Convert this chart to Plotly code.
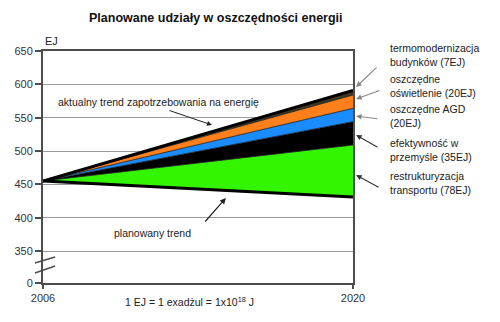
import plotly.graph_objects as go

# --- data -------------------------------------------------------------
years = [2006, 2020]
start_level = 455            # EJ in 2006
planned_2020 = 431           # planned demand in 2020 (EJ)
measure_names = ["restrukturyzacja transportu", "efektywność w przemyśle",
                 "oszczędne AGD", "oszczędne oświetlenie",
                 "termomodernizacja budynków"]
measure_savings = [78, 35, 20, 20, 7]   # EJ saved by 2020
measure_colors = ["#33f500", "#000000", "#1a8cff", "#ff7f1a", "#3d3820"]

y_ticks = [0, 350, 400, 450, 500, 550, 600, 650]

# broken axis: the 0 tick sits 48 units below 350
BREAK_ZERO = 302

def axis_pos(v):
    return BREAK_ZERO if v == 0 else v

# --- figure -----------------------------------------------------------
fig = go.Figure()

planned = [start_level, planned_2020]
fig.add_trace(go.Scatter(x=years, y=planned, mode="lines",
                         line=dict(width=0, color="black"),
                         showlegend=False, hoverinfo="skip"))
level = planned_2020
for name, s, c in zip(measure_names, measure_savings, measure_colors):
    level += s
    fig.add_trace(go.Scatter(x=years, y=[start_level, level], mode="lines",
                             name=name, fill="tonexty", fillcolor=c,
                             line=dict(width=0.8, color="#1a1a1a"),
                             showlegend=False, hoverinfo="skip"))

current = [start_level, planned_2020 + sum(measure_savings)]
fig.add_trace(go.Scatter(x=years, y=current, mode="lines",
                         line=dict(width=3, color="black"),
                         showlegend=False, hoverinfo="skip"))
fig.add_trace(go.Scatter(x=years, y=planned, mode="lines",
                         line=dict(width=3, color="black"),
                         showlegend=False, hoverinfo="skip"))

frame = "#4d4d4d"
tick_font = dict(family="Liberation Sans, Arial", size=11, color="#333")

fig.update_xaxes(range=[2006, 2020], tickvals=years,
                 ticktext=[str(y) for y in years],
                 showgrid=False, zeroline=False,
                 showline=True, mirror=True, linecolor=frame, linewidth=2,
                 ticks="outside", ticklen=4, tickcolor=frame, tickwidth=1.5,
                 tickfont=tick_font)
fig.update_yaxes(range=[BREAK_ZERO, 650],
                 tickvals=[axis_pos(v) for v in y_ticks],
                 ticktext=[str(v) for v in y_ticks],
                 showgrid=True, gridcolor="#9a9a9a", gridwidth=1,
                 zeroline=False,
                 showline=True, mirror=True, linecolor=frame, linewidth=2,
                 ticks="outside", ticklen=6, tickcolor=frame, tickwidth=1.5,
                 tickfont=tick_font)

# axis-break slashes
for y0, y1 in [(332, 341), (317, 327.5)]:
    fig.add_shape(type="line", xref="paper", yref="y",
                  x0=-0.026, y0=y0, x1=0.039, y1=y1,
                  line=dict(color=frame, width=1.5))

txt = dict(family="Liberation Sans, Arial", size=10.5, color="#222")


def label(text, x, y, font=txt, xanchor="center", align="center"):
    return dict(text=text, xref="paper", yref="paper", x=x, y=y,
                xanchor=xanchor, yanchor="middle", align=align,
                showarrow=False, font=font)


ann = [
    label("<b>Planowane udziały w oszczędności energii</b>", 0.558, 1.142,
          font=dict(family="Liberation Sans, Arial", size=12.5, color="#111")),
    label("EJ", 0.026, 1.043,
          font=dict(family="Liberation Sans, Arial", size=11, color="#222")),
    label("1 EJ = 1 exadżul = 1x10<sup>18</sup> J", 0.474, -0.078),
    label("aktualny trend zapotrzebowania na energię", 0.371, 0.780),
    label("planowany trend", 0.352, 0.2155),
]

# pointers to the two trend lines
ann.append(dict(text="", x=2013.63, y=539, xref="x", yref="y",
                ax=-44, ay=-15, showarrow=True, arrowhead=2,
                arrowsize=1, arrowwidth=1, arrowcolor="#222"))
ann.append(dict(text="", x=2014.26, y=429.5, xref="x", yref="y",
                ax=-22, ay=25, showarrow=True, arrowhead=2,
                arrowsize=1, arrowwidth=1.2, arrowcolor="#222"))

# right-hand labels for each measure
labels = ["termomodernizacja<br>budynków (7EJ)",
          "oszczędne<br>oświetlenie (20EJ)",
          "oszczędne AGD<br>(20EJ)",
          "efektywność w<br>przemyśle (35EJ)",
          "restrukturyzacja<br>transportu (78EJ)"]
label_y = [0.983, 0.849, 0.718, 0.575, 0.433]
tips = [(596, 22, -21, "#888"), (578, 25, -9, "#888"),
        (552.5, 23, 3, "#888"), (524, 23, 13, "#333"), (464, 24, 13, "#333")]
for t, ly in zip(labels, label_y):
    ann.append(label(t, 1.113, ly, xanchor="left", align="left"))
for ty, ax, ay, col in tips:
    ann.append(dict(text="", xref="paper", yref="y", x=1.01, y=ty,
                    ax=ax, ay=ay, showarrow=True, arrowhead=2,
                    arrowsize=1, arrowwidth=1.1, arrowcolor=col,
                    standoff=0))

fig.update_layout(width=500, height=322,
                  margin=dict(l=43, r=147, t=51, b=39),
                  plot_bgcolor="white", paper_bgcolor="white",
                  annotations=ann, showlegend=False)

fig.write_html("out.html")
